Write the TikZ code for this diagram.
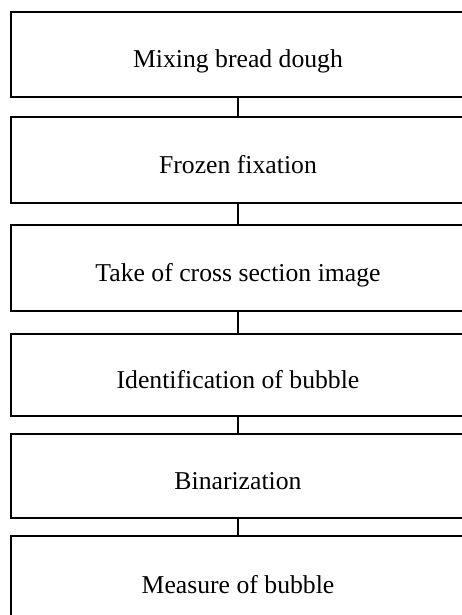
\documentclass[tikz,border=0pt]{standalone}
\usepackage{fontspec}
\setmainfont{Liberation Serif}
\begin{document}
\begin{tikzpicture}[x=1pt,y=-1pt,
  stepbox/.style={draw=black,line width=1.8pt,rectangle,inner sep=0pt,
    minimum width=454pt,font=\fontsize{25.7}{30}\selectfont,text=black,
    text height=27pt,text depth=0pt},
  link/.style={draw=black,line width=1.6pt}]
\useasboundingbox (0,0) rectangle (462,615);
\clip (0,0) rectangle (462,615);
\node[stepbox,minimum height=85pt] (b1) at (238,54.5) {Mixing bread dough};
\node[stepbox,minimum height=86pt] (b2) at (238,160) {Frozen fixation};
\node[stepbox,minimum height=86pt] (b3) at (238,268) {Take of cross section image};
\node[stepbox,minimum height=82pt] (b4) at (238,375) {Identification of bubble};
\node[stepbox,minimum height=84pt] (b5) at (238,476) {Binarization};
\node[stepbox,minimum height=87pt] (b6) at (238,579.5) {Measure of bubble};
\draw[link] (b1.south) -- (b2.north);
\draw[link] (b2.south) -- (b3.north);
\draw[link] (b3.south) -- (b4.north);
\draw[link] (b4.south) -- (b5.north);
\draw[link] (b5.south) -- (b6.north);
\end{tikzpicture}
\end{document}
